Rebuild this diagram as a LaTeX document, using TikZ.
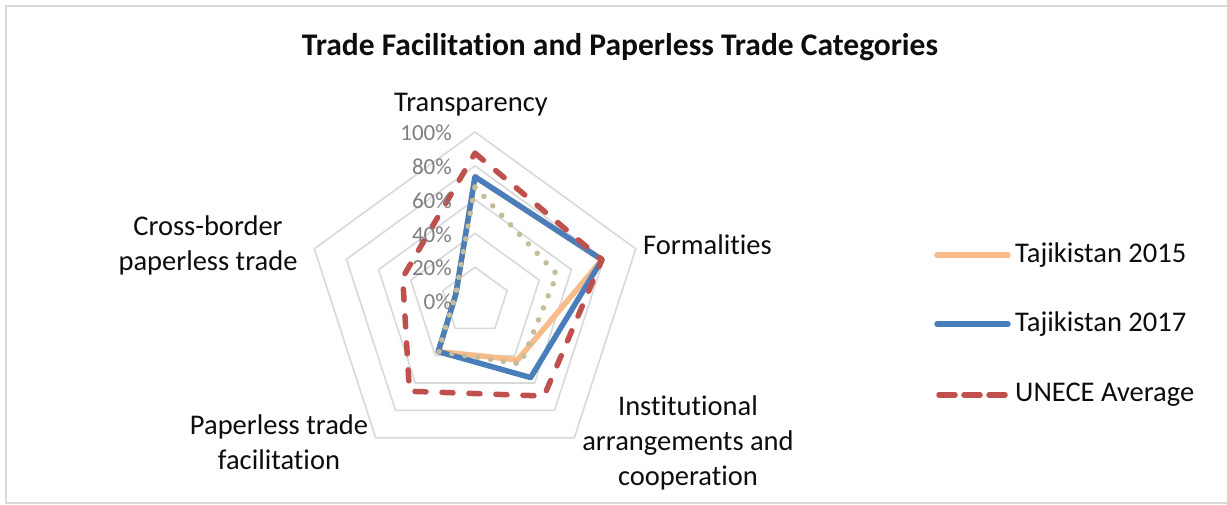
\documentclass[tikz,border=0pt]{standalone}
\usepackage{fontspec}
\setmainfont{Carlito}[Ligatures=NoCommon]
\definecolor{gridc}{HTML}{D9D9D9}
\definecolor{frame}{HTML}{D9D9D9}
\definecolor{orng}{HTML}{F8BC8A}
\definecolor{blu}{HTML}{4A7EBB}
\definecolor{rd}{HTML}{C0504D}
\definecolor{tanc}{HTML}{C4BD97}
\definecolor{axg}{HTML}{7F7F7F}
\definecolor{txt}{HTML}{0D0D0D}
\begin{document}
\begin{tikzpicture}[x=1pt,y=-1pt,
  gridline/.style={draw=gridc,line width=1.6pt},
  ser/.style={line width=5.5pt,line join=round},
  s15/.style={ser,draw=orng},
  s17/.style={ser,draw=blu},
  savg/.style={ser,draw=rd,line cap=round,dash pattern=on 11pt off 16pt},
  sdot/.style={ser,draw=tanc,line cap=round,dash pattern=on 0pt off 13pt},
  lab/.style={inner sep=0pt,text=txt,font=\fontsize{28.5}{35}\selectfont,align=center},
  pct/.style={inner sep=0pt,text=axg,font=\fontsize{23}{27}\selectfont,anchor=east},
  ttl/.style={inner sep=0pt,text=txt,font=\fontsize{31.5}{38}\selectfont\bfseries}]
\useasboundingbox (0,0) rectangle (1227,504);
\fill[white] (0,0) rectangle (1227,504);
\coordinate (fr1) at (1227,6);
\coordinate (fr2) at (6,6);
\coordinate (fr3) at (6,503);
\coordinate (fr4) at (1227,503);
\draw[frame,line width=2pt] (fr1) -- (fr2) -- (fr3) -- (fr4);
\node[ttl] (title) at (620,47) {Trade Facilitation and Paperless Trade Categories};
\begin{scope}[shift={(475,301)}]
  \def\R{1.69}
  \foreach \p in {20,40,60,80,100}
    \draw[gridline] (-90:\p*\R) -- (-18:\p*\R) -- (54:\p*\R) -- (126:\p*\R) -- (198:\p*\R) -- cycle;
  % Tajikistan 2015
  \coordinate (aT) at (-90:73.5*\R);
  \coordinate (aF) at (-18:79*\R);
  \coordinate (aI) at (54:43*\R);
  \coordinate (aP) at (126:37*\R);
  \coordinate (aC) at (198:12*\R);
  % Tajikistan 2017
  \coordinate (bT) at (-90:73.5*\R);
  \coordinate (bF) at (-18:79*\R);
  \coordinate (bI) at (54:56*\R);
  \coordinate (bP) at (126:37*\R);
  \coordinate (bC) at (198:12*\R);
  % UNECE average
  \coordinate (cT) at (-90:87.5*\R);
  \coordinate (cF) at (-18:79*\R);
  \coordinate (cI) at (54:69.5*\R);
  \coordinate (cP) at (126:66*\R);
  \coordinate (cC) at (198:45*\R);
  % dotted series
  \coordinate (dT) at (-90:67.5*\R);
  \coordinate (dF) at (-18:51*\R);
  \coordinate (dI) at (54:46*\R);
  \coordinate (dP) at (126:37*\R);
  \coordinate (dC) at (198:12*\R);
  \draw[s15] (aT) -- (aF) -- (aI) -- (aP) -- (aC) -- cycle;
  \draw[s17] (bT) -- (bF) -- (bI) -- (bP) -- (bC) -- cycle;
  \draw[savg] (cT) -- (cF) -- (cI) -- (cP) -- (cC) -- cycle;
  \draw[sdot] (dT) -- (dF) -- (dI) -- (dP) -- (dC) -- cycle;
\end{scope}
\node[pct] (p100) at (452,133) {100\%};
\node[pct] (p80) at (452,167) {80\%};
\node[pct] (p60) at (452,200.5) {60\%};
\node[pct] (p40) at (452,234.5) {40\%};
\node[pct] (p20) at (452,268) {20\%};
\node[pct] (p0) at (452,302) {0\%};
\node[lab] (lT) at (471,105) {Transparency};
\node[lab,anchor=west] (lF) at (643,245) {Formalities};
\node[lab] (lC) at (208,245) {Cross-border\\paperless trade};
\node[lab] (lP) at (279,442) {Paperless trade\\facilitation};
\node[lab] (lI) at (688,443) {Institutional\\arrangements and\\cooperation};
% legend
\coordinate (g1a) at (937,255); \coordinate (g1b) at (1008,255);
\coordinate (g2a) at (937,324); \coordinate (g2b) at (1008,324);
\coordinate (g3a) at (939,395); \coordinate (g3b) at (1008,395);
\draw[s15,line cap=round] (g1a) -- (g1b);
\draw[s17,line cap=round] (g2a) -- (g2b);
\draw[savg,dash pattern=on 16pt off 9pt] (g3a) -- (g3b);
\node[lab,anchor=west] (k1) at (1015,255) {Tajikistan 2015};
\node[lab,anchor=west] (k2) at (1015,324) {Tajikistan 2017};
\node[lab,anchor=west] (k3) at (1015,395) {UNECE Average};
\end{tikzpicture}
\end{document}
